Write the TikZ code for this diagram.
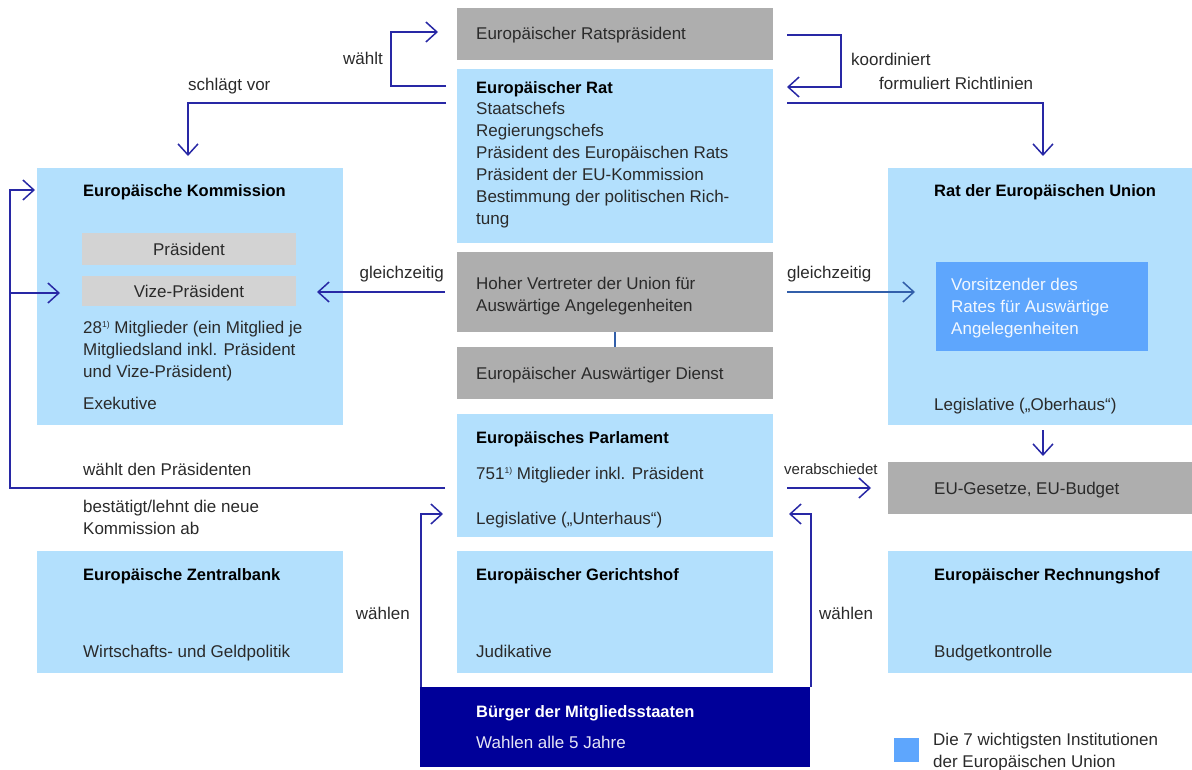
\documentclass[tikz,border=0pt]{standalone}
\usepackage{fontspec}
\setmainfont{Liberation Sans}
\usetikzlibrary{arrows.meta}
\definecolor{lb}{HTML}{B3E0FD}
\definecolor{gr}{HTML}{AEAEAE}
\definecolor{lg}{HTML}{D3D3D3}
\definecolor{db}{HTML}{000099}
\definecolor{mb}{HTML}{5EA6FD}
\definecolor{ac}{RGB}{40,40,165}
\definecolor{sb}{RGB}{50,95,170}
\definecolor{tx}{HTML}{2A2A2A}
\newcommand{\fn}{\raisebox{5.5pt}{\fontsize{8.5}{9}\selectfont 1)}}
\newcommand{\ml}[1]{\begin{tabular}[t]{@{}l@{}}#1\end{tabular}}
\begin{document}
\begin{tikzpicture}[x=1pt,y=-1pt,
  every node/.style={font=\fontsize{17}{22}\selectfont, text=tx},
  base/.style={draw=none, inner sep=0pt, outer sep=0pt, anchor=north west},
  lbbox/.style={base, fill=lb},
  grbox/.style={base, fill=gr},
  lgbox/.style={base, fill=lg},
  dbbox/.style={base, fill=db},
  mbbox/.style={base, fill=mb},
  txt/.style={inner sep=0pt, anchor=base west},
  rtxt/.style={inner sep=0pt, anchor=base east},
  ttl/.style={txt, font=\fontsize{16.5}{22}\selectfont\bfseries, text=black},
  arr/.style={draw=ac, line width=1.5pt, -{Straight Barb[length=11pt,width=20pt,line width=1.5pt]}},
  sarr/.style={arr, draw=sb},
]
\useasboundingbox (0,0) rectangle (1192,769);

% ---------- boxes ----------
\node[grbox, minimum width=316pt, minimum height=52pt] (rp) at (457,8) {};
\node[lbbox, minimum width=316pt, minimum height=174pt] (er) at (457,69) {};
\node[grbox, minimum width=316pt, minimum height=80pt] (hv) at (457,252) {};
\node[grbox, minimum width=316pt, minimum height=52pt] (ead) at (457,347) {};
\node[lbbox, minimum width=316pt, minimum height=123pt] (ep) at (457,414) {};
\node[lbbox, minimum width=316pt, minimum height=122pt] (gh) at (457,551) {};
\node[dbbox, minimum width=390pt, minimum height=80pt] (bg) at (420,687) {};

\node[lbbox, minimum width=306pt, minimum height=257pt] (ek) at (37,168) {};
\node[lgbox, minimum width=214pt, minimum height=32pt] (pr) at (82,233) {Präsident};
\node[lgbox, minimum width=214pt, minimum height=30pt] (vp) at (82,276) {Vize-Präsident};
\node[lbbox, minimum width=306pt, minimum height=122pt] (ezb) at (37,551) {};

\node[lbbox, minimum width=304pt, minimum height=257pt] (reu) at (888,168) {};
\node[mbbox, minimum width=212pt, minimum height=89pt] (vs) at (936,262) {};
\node[grbox, minimum width=304pt, minimum height=52pt] (gs) at (888,462) {};
\node[lbbox, minimum width=304pt, minimum height=122pt] (rh) at (888,551) {};
\node[mbbox, minimum width=25pt, minimum height=24pt] (leg) at (894,738) {};

% ---------- texts ----------
\node[txt] (t-rp) at (476,39) {Europäischer Ratspräsident};
\node[txt] (t-er) at (476,93) {\ml{\textbf{\textcolor{black}{\fontsize{16.5}{22}\selectfont Europäischer Rat}}\\[-1pt]Staatschefs\\Regierungschefs\\Präsident des Europäischen Rats\\Präsident der EU-Kommission\\Bestimmung der politischen Rich-\\tung}};
\node[txt] (t-hv) at (476,289) {\ml{Hoher Vertreter der Union für\\Auswärtige Angelegenheiten}};
\node[txt] (t-ead) at (476,379) {Europäischer Auswärtiger Dienst};
\node[ttl] (t-ep) at (476,443) {Europäisches Parlament};
\node[txt] (t-ep2) at (476,479) {751\fn\ Mitglieder inkl. Präsident};
\node[txt] (t-ep3) at (476,524) {Legislative („Unterhaus“)};
\node[ttl] (t-gh) at (476,580) {Europäischer Gerichtshof};
\node[txt] (t-gh2) at (476,657) {Judikative};
\node[ttl, text=white] (t-bg) at (476,717) {Bürger der Mitgliedsstaaten};
\node[txt, text=white!90!db] (t-bg2) at (476,748) {Wahlen alle 5 Jahre};

\node[ttl] (t-ek) at (83,196) {Europäische Kommission};
\node[txt] (t-ek2) at (83,333) {\ml{28\fn\ Mitglieder (ein Mitglied je\\Mitgliedsland inkl. Präsident\\und Vize-Präsident)}};
\node[txt] (t-ek3) at (83,409) {Exekutive};
\node[ttl] (t-ezb) at (83,580) {Europäische Zentralbank};
\node[txt] (t-ezb2) at (83,657) {Wirtschafts- und Geldpolitik};

\node[ttl] (t-reu) at (934,196) {Rat der Europäischen Union};
\node[txt, text=white!92!mb] (t-vs) at (951,290) {\ml{Vorsitzender des\\Rates für Auswärtige\\Angelegenheiten}};
\node[txt] (t-reu2) at (934,410) {Legislative („Oberhaus“)};
\node[txt] (t-gs) at (934,494) {EU-Gesetze, EU-Budget};
\node[ttl] (t-rh) at (934,580) {Europäischer Rechnungshof};
\node[txt] (t-rh2) at (934,657) {Budgetkontrolle};
\node[txt] (t-leg) at (933,745) {\ml{Die 7 wichtigsten Institutionen\\der Europäischen Union}};

% ---------- connector labels ----------
\node[rtxt] (l-w) at (383,64) {wählt};
\node[txt] (l-sv) at (188,90) {schlägt vor};
\node[txt] (l-ko) at (851,65) {koordiniert};
\node[txt] (l-fr) at (879,89) {formuliert Richtlinien};
\node[rtxt] (l-g1) at (444,278) {gleichzeitig};
\node[txt] (l-g2) at (787,278) {gleichzeitig};
\node[txt] (l-wp) at (83,475) {wählt den Präsidenten};
\node[txt] (l-bt) at (83,512) {\ml{bestätigt/lehnt die neue\\Kommission ab}};
\node[txt, font=\fontsize{15}{20}\selectfont] (l-vb) at (784,474) {verabschiedet};
\node[rtxt] (l-wa1) at (410,619) {wählen};
\node[txt] (l-wa2) at (819,619) {wählen};

% ---------- connector end points ----------
\coordinate (c-w1) at (446,86);
\coordinate (c-w2) at (438,32);
\coordinate (c-sv1) at (446,103);
\coordinate (c-sv2) at (188,156);
\coordinate (c-ko1) at (787,35);
\coordinate (c-ko2) at (787,87);
\coordinate (c-fr1) at (787,103);
\coordinate (c-fr2) at (1043,156);
\coordinate (c-g11) at (445,292);
\coordinate (c-g12) at (317,292);
\coordinate (c-g21) at (787,292);
\coordinate (c-g22) at (915,292);
\coordinate (c-ep1) at (445,488);
\coordinate (c-ek1) at (35,190);
\coordinate (c-ek2) at (60,293);
\coordinate (c-vb1) at (787,488);
\coordinate (c-vb2) at (871,488);
\coordinate (c-gs1) at (1043,430);
\coordinate (c-gs2) at (1043,456);
\coordinate (c-wa11) at (421,687);
\coordinate (c-wa12) at (443,514);
\coordinate (c-wa21) at (811,687);
\coordinate (c-wa22) at (789,514);

% ---------- connectors ----------
\draw[arr] (c-w1) -- (391,86) |- (c-w2);
\draw[arr] (c-sv1) -| (c-sv2);
\draw[arr] (c-ko1) -- (841,35) |- (c-ko2);
\draw[arr] (c-fr1) -| (c-fr2);
\draw[arr] (c-g11) -- (c-g12);
\draw[sarr] (c-g21) -- (c-g22);
\draw[arr] (c-ep1) -- (10,488) |- (c-ek1);
\draw[arr] (10,293) -- (c-ek2);
\draw[arr] (c-vb1) -- (c-vb2);
\draw[arr] (c-gs1) -- (c-gs2);
\draw[arr] (c-wa11) |- (c-wa12);
\draw[arr] (c-wa21) |- (c-wa22);
\draw[draw=sb, line width=1.5pt] (hv.south -| 615,0) -- (ead.north -| 615,0);
\end{tikzpicture}
\end{document}
